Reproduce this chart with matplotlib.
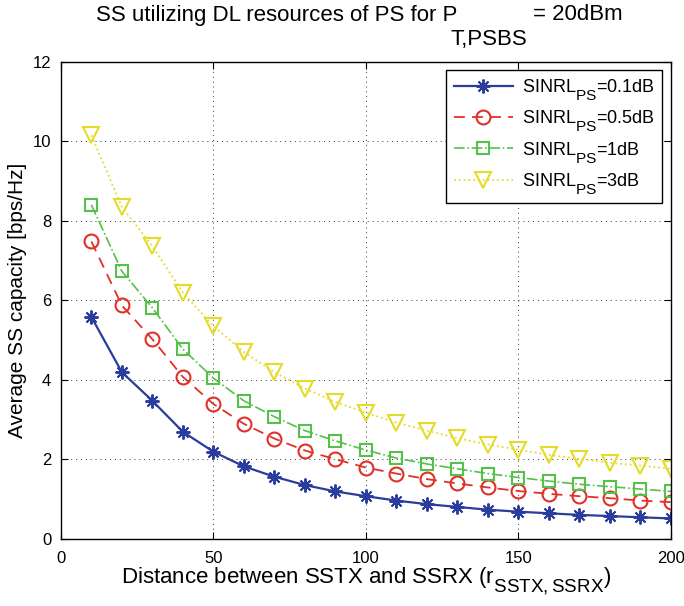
import numpy as np
import matplotlib.pyplot as plt
import matplotlib._mathtext as mathtext_internal

plt.rcParams['font.family'] = ['Liberation Sans', 'DejaVu Sans']
plt.rcParams['mathtext.fontset'] = 'custom'
plt.rcParams['mathtext.rm'] = 'Liberation Sans'
plt.rcParams['mathtext.it'] = 'Liberation Sans'
# MATLAB-like subscripts: bigger and lower than matplotlib's defaults
mathtext_internal.SHRINK_FACTOR = 0.85
mathtext_internal.FontConstantsBase.sub1 = 0.8
mathtext_internal.FontConstantsBase.sub2 = 0.8

# distance between SSTX and SSRX
distance = np.arange(10, 201, 10)

cap_01db = [5.58, 4.19, 3.47, 2.69, 2.19, 1.82, 1.56, 1.35, 1.19, 1.07,
            0.96, 0.87, 0.80, 0.73, 0.68, 0.64, 0.60, 0.57, 0.54, 0.51]
cap_05db = [7.48, 5.87, 5.02, 4.07, 3.39, 2.89, 2.52, 2.22, 2.00, 1.79,
            1.64, 1.50, 1.39, 1.29, 1.20, 1.13, 1.07, 1.02, 0.96, 0.92]
cap_1db = [8.40, 6.73, 5.81, 4.77, 4.04, 3.47, 3.07, 2.72, 2.46, 2.23,
           2.03, 1.88, 1.76, 1.64, 1.54, 1.45, 1.37, 1.31, 1.25, 1.19]
cap_3db = [10.15, 8.35, 7.36, 6.19, 5.35, 4.70, 4.19, 3.78, 3.44, 3.17,
           2.92, 2.72, 2.53, 2.37, 2.24, 2.11, 2.01, 1.91, 1.84, 1.76]

labels = [r'SINRL$_{\mathrm{PS}}$=0.1dB', r'SINRL$_{\mathrm{PS}}$=0.5dB',
          r'SINRL$_{\mathrm{PS}}$=1dB', r'SINRL$_{\mathrm{PS}}$=3dB']

fig = plt.figure(figsize=(6.84, 6.06), dpi=100)
ax = fig.add_axes([0.089, 0.111, 0.892, 0.787])

ax.plot(distance, cap_01db, '-', color='#2a3c9c', lw=1.6, marker=(8, 2, 0),
        ms=10, mew=1.4, label=labels[0])
ax.plot(distance, cap_05db, '--', color='#e0302a', lw=1.3, marker='o',
        ms=10, mfc='none', mew=1.5, dashes=(6, 4), label=labels[1])
ax.plot(distance, cap_1db, '-.', color='#55c04a', lw=1.2, marker='s',
        ms=8, mfc='none', mew=1.5, label=labels[2])
ax.plot(distance, cap_3db, ':', color='#e4dc28', lw=1.3, marker='v',
        ms=12, mfc='none', mew=1.5, label=labels[3])

ax.set_xlim(0, 200)
ax.set_ylim(0, 12)
ax.set_xticks(np.arange(0, 201, 50))
ax.set_yticks(np.arange(0, 13, 2))
ax.grid(True, color='black', linestyle=(0, (1, 4)), lw=0.7, alpha=0.8)
ax.tick_params(direction='in', top=True, right=True, labelsize=12, length=5)
ax.tick_params(axis='x', pad=9)
ax.tick_params(axis='y', pad=7)
for s in ax.spines.values():
    s.set_linewidth(1.0)

ax.set_xlabel(r'Distance between SSTX and SSRX (r$_{\mathrm{SSTX,SSRX}}$)', fontsize=16,
              labelpad=0)
ax.set_ylabel('Average SS capacity [bps/Hz]', fontsize=15)

fig.text(457 / 684, 1 - 15 / 606, 'SS utilizing DL resources of PS for P', fontsize=16,
         ha='right', va='center')
fig.text(533 / 684, 1 - 15 / 606, '= 20dBm', fontsize=16, ha='left', va='center')
fig.text(450 / 684, 1 - 40 / 606, 'T,PSBS', fontsize=16, ha='left', va='center')

leg = ax.legend(loc='upper right', fontsize=13, fancybox=False, framealpha=1,
                edgecolor='black', handlelength=3.3, borderpad=0.4,
                labelspacing=0.35, handletextpad=0.5, borderaxespad=0,
                bbox_to_anchor=(0.9855, 0.983))
leg.get_frame().set_linewidth(1.0)

fig.savefig('out.png', dpi=100)
